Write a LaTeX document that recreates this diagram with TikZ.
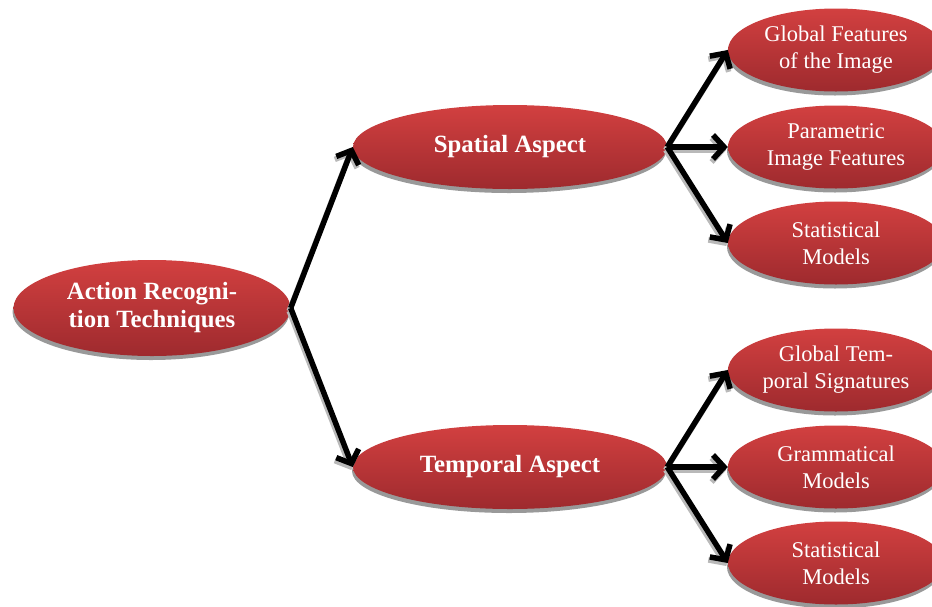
\documentclass[tikz,border=0pt]{standalone}
\usepackage{fontspec}
\setmainfont{Liberation Serif}
\usepackage{xcolor}
\usetikzlibrary{shapes.geometric, shadows, arrows.meta}

\definecolor{redtop}{RGB}{210,64,64}
\definecolor{redbot}{RGB}{158,42,46}

\tikzset{
	bubble/.style = {ellipse, inner sep=0pt, align=center, text=white,
		top color=redtop, bottom color=redbot, draw=none,
		drop shadow={shadow xshift=-1pt, shadow yshift=-4pt, fill=gray!80, opacity=1}},
	topic/.style = {bubble, minimum width=277pt, minimum height=96pt,
		font=\fontsize{24.8}{28}\selectfont\bfseries},
	aspect/.style = {bubble, minimum width=314pt, minimum height=84pt,
		font=\fontsize{24.8}{28}\selectfont\bfseries},
	leaf/.style = {bubble, minimum width=216pt, minimum height=83pt,
		font=\fontsize{22.5}{27}\selectfont},
	branch/.style = {draw=black, line width=5.5pt, -{Straight Barb[length=11pt, width=24pt, line width=5.5pt]},
		preaction={draw=gray!55, line width=5.5pt, -{Straight Barb[length=11pt, width=24pt, line width=5.5pt]}, transform canvas={xshift=-1.5pt, yshift=-3pt}}}
}

\begin{document}
\begin{tikzpicture}[x=1pt, y=-1pt]
	%bounding box
	\useasboundingbox (0,0) rectangle (932,606);
	\clip (0,0) rectangle (932,606);
	
	%root
	\node [topic] (root) at (152,308) {Action Recogni-\\tion Techniques};
	
	%aspects
	\node [aspect] (spatial) at (510,147) {Spatial Aspect};
	\node [aspect] (temporal) at (510,467) {Temporal Aspect};
	
	%spatial leaves
	\node [leaf] (globalfeat) at (836,50) {Global Features\\of the Image};
	\node [leaf] (parametric) at (836,147) {Parametric\\Image Features};
	\node [leaf] (statspat) at (836,243) {Statistical\\Models};
	
	%temporal leaves
	\node [leaf] (globaltemp) at (836,370) {Global Tem-\\poral Signatures};
	\node [leaf] (grammar) at (836,467) {Grammatical\\Models};
	\node [leaf] (stattemp) at (836,563) {Statistical\\Models};
	
	%connectors
	\draw [branch] (root.east) -- (spatial.west);
	\draw [branch] (root.east) -- (temporal.west);
	\draw [branch] (spatial.east) -- (globalfeat.west);
	\draw [branch] (spatial.east) -- (parametric.west);
	\draw [branch] (spatial.east) -- (statspat.west);
	\draw [branch] (temporal.east) -- (globaltemp.west);
	\draw [branch] (temporal.east) -- (grammar.west);
	\draw [branch] (temporal.east) -- (stattemp.west);
\end{tikzpicture}
\end{document}
